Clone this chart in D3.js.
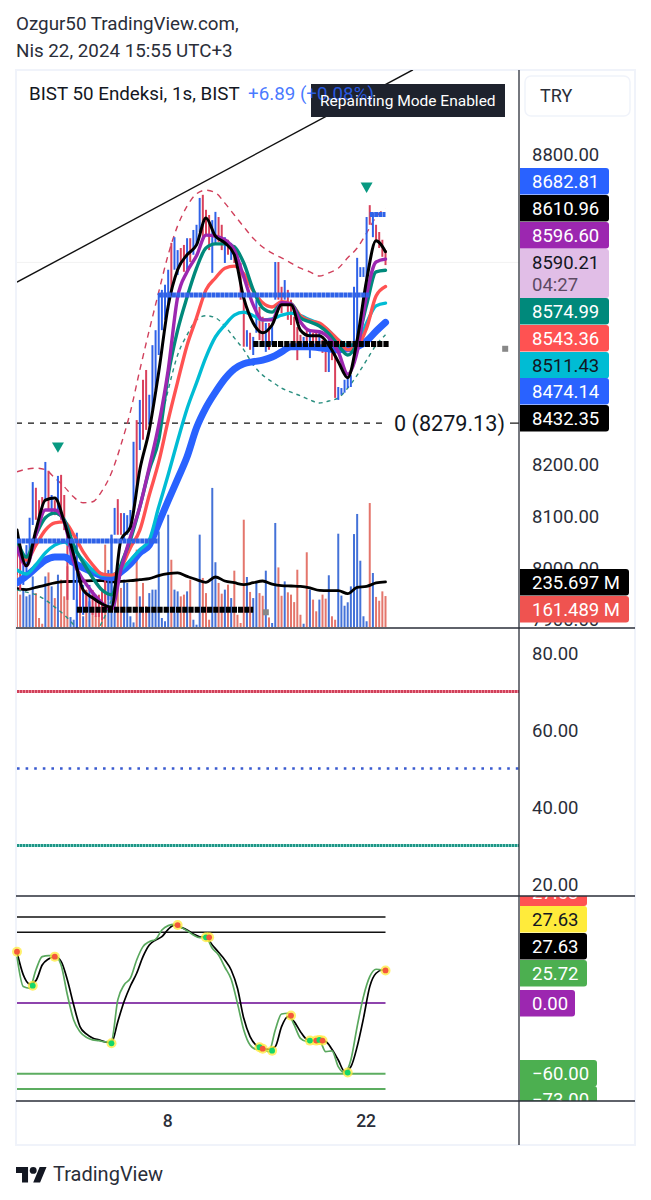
<!DOCTYPE html>
<html>
<head>
<meta charset="utf-8">
<style>
  html, body { margin: 0; background: #fff; }
  svg { display: block; }
  text { font-family: Roboto, sans-serif; }
</style>
<script src="https://cdn.jsdelivr.net/npm/d3@7"></script>
</head>
<body>
<svg id="chart" width="651" height="1200"></svg>
<script>
/* Daily bars: u = up, d = down */
const barDir = "dduuuudddu" + "dududdduuu" + "dududddddu" + "uudduuuudu" + "dduuuuuuud" + "uudduduu"
  + "uddduuddud" + "udddduduud" + "duduuddudd" + "dddududdud" + "dudduuuuuu" + "uuuududddd"
const barHigh = [
  8072,8053,8024,8043,8096,8165,8154,8130,8136,8204,
  8187,8140,8130,8177,8179,8140,8072,8043,8014,8067,
  7985,7966,7956,7966,7956,7947,7947,7956,7985,7995,
  8063,8115,8132,8105,8105,8101,8111,8243,8285,8324,
  8363,8382,8334,8430,8459,8531,8537,8547,8576,8628,
  8639,8614,8618,8624,8637,8637,8653,8663,
  8715,8721,8692,8682,8672,8688,8678,8663,8639,8634,
  8628,8624,8614,8589,8525,8459,8454,8446,8518,8504,
  8485,8473,8473,8469,8591,8591,8543,8556,8537,8518,
  8485,8465,8450,8446,8459,8459,8454,8459,8459,8440,
  8434,8446,8434,8427,8349,8347,8363,8368,8372,8543,
  8599,8581,8581,8678,8701,8686,8663,8649,8634,8614
]
const barLow = [
  7985,7956,7966,7985,8014,8082,8092,8092,8111,8130,
  8111,8101,8101,8101,8092,8072,7937,8005,7937,7883,
  7918,7908,7914,7914,7908,7904,7904,7898,7918,7937,
  7937,8063,8063,8063,8053,8063,8072,8111,8150,8227,
  8247,8266,8276,8305,8343,8411,8459,8479,8498,8527,
  8576,8566,8585,8572,8576,8591,8605,8624,
  8649,8634,8643,8614,8570,8624,8630,8614,8589,8605,
  8595,8589,8585,8518,8427,8427,8421,8411,8454,8440,
  8434,8417,8421,8430,8518,8518,8492,8518,8479,8469,
  8434,8401,8421,8421,8421,8405,8421,8427,8427,8415,
  8378,8378,8401,8328,8324,8334,8338,8347,8349,8415,
  8440,8562,8562,8537,8663,8639,8634,8618,8601,8585
]
/* Volume, millions */
const volume = [
  308,169,204,160,169,264,177,47,17,264,
  285,212,151,273,247,160,317,52,38,143,
  143,56,195,134,108,56,90,38,430,247,
  482,143,204,204,247,230,56,24,404,160,
  230,108,177,195,195,499,47,30,586,351,
  195,186,160,169,186,247,38,12,
  482,256,177,38,726,338,230,174,195,221,
  151,294,64,21,560,261,183,151,230,177,
  163,294,50,21,543,311,163,238,181,169,
  130,299,64,17,390,195,143,82,143,169,
  148,270,56,38,487,164,111,129,212,485,
  590,346,56,30,647,282,157,137,186,161.489
]

/* Moving averages, one value every third bar */
const maBars = d3.range(0, 118, 3)
const maBlack = [8072,8003,8072,8130,8134,8088,8024,7956,7941,7929,7923,8053,8078,8189,8266,8378,8506,8576,8605,8624,8676,8641,8628,8605,8521,8473,8454,8469,8508,8508,8459,8448,8448,8430,8398,8367,8440,8556,8632,8610.96]
const maPurple = [8038,8003,8063,8111,8111,8088,8011,7976,7951,7931,7918,7995,8059,8117,8194,8276,8382,8523,8572,8603,8643,8641,8634,8614,8562,8508,8479,8479,8512,8510,8475,8458,8456,8444,8417,8374,8417,8527,8591,8596.6]
const maTeal = [8053,8020,8063,8096,8105,8092,8043,8009,7980,7956,7947,8005,8053,8117,8189,8247,8372,8459,8523,8579,8618,8626,8626,8620,8589,8537,8502,8494,8510,8510,8483,8475,8467,8452,8430,8411,8436,8508,8572,8574.99]
const maRed = [8040,8014,8043,8072,8086,8088,8063,8030,8005,7987,7985,7999,8038,8072,8140,8204,8285,8359,8430,8483,8537,8560,8579,8583,8568,8535,8512,8504,8514,8510,8487,8477,8473,8458,8440,8421,8428,8463,8525,8543.36]
const maCyan = [7995,7987,8005,8028,8043,8049,8034,8014,7995,7985,7985,7995,8014,8034,8053,8117,8179,8245,8307,8357,8407,8446,8469,8488,8494,8487,8479,8481,8488,8492,8487,8479,8471,8458,8440,8430,8432,8473,8506,8511.43]
const maBlue = [7970,7983,7999,8014,8020,8020,8009,7999,7991,7983,7980,7991,8007,8028,8043,8086,8129,8171,8214,8270,8309,8339,8365,8384,8394,8398,8401,8407,8417,8427,8427,8427,8425,8423,8421,8423,8427,8438,8457,8474.14]
const bandUpper = [8185,8190,8192,8189,8173,8156,8136,8125,8127,8148,8183,8237,8301,8382,8459,8533,8605,8661,8699,8723,8730,8725,8705,8682,8659,8637,8620,8608,8599,8589,8579,8572,8564,8570,8579,8599,8618,8647,8678,8695]
const bandLower = [7956,7952,7947,7937,7923,7908,7889,7869,7869,7894,7937,7985,8053,8121,8189,8266,8343,8411,8450,8479,8487,8483,8467,8444,8421,8392,8372,8359,8347,8339,8332,8324,8318,8322,8328,8347,8372,8401,8430,8450]
const volumeMa = [200,195,207,219,230,237,238,240,242,242,235,238,242,247,252,268,278,282,264,247,233,261,240,231,221,231,240,224,216,214,212,204,191,190,190,174,207,212,230,235.697]

/* Support / resistance segments: bar start, bar end, price */
const blueLevels = [[0, 45, 8051], [45, 112, 8527], [112, 117, 8682.81]]
const blackLevels = [[19, 75, 7918], [75, 118, 8432.35]]
const trendFrom = [0, 8552]
const trendTo = [125.7, 8963]
const fibLevel = 8279.13
const signalBars = [13, 111]
const signalPrices = [8235, 8738]
const squareMarks = [[79, 7913], [155, 8423]]

/* Wave oscillator, one value every second bar */
const oscBars = d3.range(0, 117, 2).concat(117)
const oscSlow = [43,23.8,16.1,19,32.2,37.3,39.3,35.3,19.5,-1.7,-20,-26.2,-29.6,-31.3,-33,-33.6,-15.8,1.2,14.4,25.2,39.3,49.2,53.4,56.2,62.5,66.1,64.2,61.9,58.5,56.2,55.7,49.2,43,36.5,28,12.5,-13,-28.5,-36.1,-38.7,-39.2,-37,-20,-11.6,-15.8,-24.3,-30.8,-31.9,-31.9,-32.7,-39.2,-48.3,-58,-54,-37,-13,13.9,25.2,28,27.63]
const oscFast = [39.3,13.9,12.5,28,39.3,40.1,40.1,32.2,6.8,-14.4,-24.3,-29.1,-31.3,-31.9,-33,-31.9,2.6,15.3,21,36.5,47.8,52,54,61.9,65.6,66.7,64.2,61.3,57.7,55.4,55.7,46.4,40.7,30.3,20.1,-0.3,-22.9,-35.6,-39.2,-39.2,-41.2,-22.9,-9.3,-8.7,-18.6,-29.9,-32.5,-31.9,-31.9,-41.2,-40.6,-53.9,-59,-48.3,-20,5.4,22.3,28.6,28,25.72]
const crossBars = [0,5,12,30,51,60,61,77,78,81,87,93,95,96,97,105,117]
const crossValues = [43.5,14.7,39.3,-34.2,66.1,55.7,55.7,-37.5,-38.7,-40.4,-10.7,-31.9,-31.9,-31.3,-31.9,-59,27.63]
const crossKinds = ["r","g","r","g","r","g","r","g","r","g","r","g","r","g","r","g","r"]
const oscLevels = [73, 60, 0, -60, -73]
const oscLevelColors = ["#111", "#111", "#8e44ad", "#5cad60", "#5cad60"]

/* Axis ticks and labels, 8300-8700 sit behind the value tags */
const priceTicks = [8800, 8200, 8100, 8000, 7900]
const rsiTicks = [80, 60, 40, 20]
const timeTickBars = [48, 111]
const timeTickLabels = ["8", "22"]
const priceLabels = ["8682.81", "8610.96", "8596.60", "8590.21", "8574.99", "8543.36", "8511.43", "8474.14", "8432.35"]
const priceLabelColors = ["#2962ff", "#000", "#9c27b0", "#e1bee7", "#00897b", "#ff5252", "#00bcd4", "#2962ff", "#000"]
const priceLabelInk = ["#fff", "#fff", "#fff", "#131722", "#fff", "#fff", "#131722", "#fff", "#fff"]
const volumeLabels = ["235.697 M", "161.489 M"]
const volumeLabelColors = ["#000", "#ef5350"]
const oscLabels = ["27.63", "27.63", "27.63", "25.72", "0.00", "−60.00", "−73.00"]
const oscLabelColors = ["#ff5252", "#ffeb3b", "#000", "#4caf50", "#9c27b0", "#4caf50", "#4caf50"]
const oscLabelInk = ["#fff", "#131722", "#fff", "#fff", "#fff", "#fff", "#fff"]

/* Chart dimensions etc. */
const paneLeft = 16
const paneRight = 519
const frameRight = 635
const frameTop = 70
const mainBottom = 628
const rsiBottom = 896
const oscBottom = 1101
const frameBottom = 1145
const fontSize = 18.5

const svg = d3.select("#chart")

/* scales */
const x = d3.scaleLinear([0, 117], [17, 385.5])
const y = d3.scaleLinear([7900, 8800], [619, 154])
const yVol = d3.scaleLinear([0, 1000], [627, 435.4])
const yRsi = d3.scaleLinear([20, 80], [884, 653])
const yOsc = d3.scaleLinear([-73, 73], [1089.1, 916.9])

const line = (xs, scale, curve) => d3.line()
  .x((d, i) => x(xs[i]))
  .y(d => scale(d))
  .curve(curve || d3.curveMonotoneX)

const addClip = (id, top, bottom, left, right) => svg.append("clipPath").attr("id", id)
  .append("rect").attr("x", left).attr("y", top).attr("width", right - left).attr("height", bottom - top)

addClip("cut-main", frameTop, mainBottom, paneLeft + 1, paneRight)
addClip("cut-main-axis", frameTop, mainBottom, paneRight, frameRight)
addClip("cut-rsi-axis", mainBottom, rsiBottom, paneRight, frameRight)
addClip("cut-osc-axis", rsiBottom, oscBottom, paneRight, frameRight)

/* frame */
svg.append("rect")
  .attr("x", paneLeft).attr("y", frameTop)
  .attr("width", frameRight - paneLeft).attr("height", frameBottom - frameTop)
  .attr("fill", "#fff").attr("stroke", "#f0f3fa").attr("stroke-width", 2)

/* header */
svg.append("text").attr("x", 16).attr("y", 30).attr("font-size", 18.8).attr("fill", "#2a2e39").text("Ozgur50 TradingView.com,")
svg.append("text").attr("x", 16).attr("y", 57).attr("font-size", 18.8).attr("fill", "#2a2e39").text("Nis 22, 2024 15:55 UTC+3")

const main = svg.append("g").attr("clip-path", "url(#cut-main)")

/* last price guide */
main.append("line")
  .attr("x1", paneLeft).attr("x2", paneRight)
  .attr("y1", y(8590.21)).attr("y2", y(8590.21))
  .attr("stroke", "#f2f2f2").attr("stroke-width", 1)

/* trend line */
main.append("line")
  .attr("x1", x(trendFrom[0])).attr("y1", y(trendFrom[1]))
  .attr("x2", x(trendTo[0])).attr("y2", y(trendTo[1]))
  .attr("stroke", "#111").attr("stroke-width", 1.4)

/* fib level */
main.append("line")
  .attr("x1", paneLeft).attr("x2", 385)
  .attr("y1", y(fibLevel)).attr("y2", y(fibLevel))
  .attr("stroke", "#111").attr("stroke-width", 1.2).attr("stroke-dasharray", "6,6")
main.append("line")
  .attr("x1", 510).attr("x2", paneRight)
  .attr("y1", y(fibLevel)).attr("y2", y(fibLevel))
  .attr("stroke", "#111").attr("stroke-width", 1.2)

/* volume bars */
main.append("g").selectAll("line")
  .data(volume)
  .join("line")
  .attr("x1", (d, i) => x(i)).attr("x2", (d, i) => x(i))
  .attr("y1", yVol(0)).attr("y2", d => yVol(d))
  .attr("stroke", (d, i) => barDir[i] === "u" ? "#4472d8" : "#e4766c")
  .attr("stroke-width", 2)

/* volume average */
main.append("path")
  .attr("d", line(maBars, yVol)(volumeMa))
  .attr("fill", "none").attr("stroke", "#000").attr("stroke-width", 2.8).attr("stroke-linecap", "round")

/* envelope bands */
main.append("path")
  .attr("d", line(maBars, y)(bandUpper))
  .attr("fill", "none").attr("stroke", "#d1405c").attr("stroke-width", 1.4).attr("stroke-dasharray", "6,5")
main.append("path")
  .attr("d", line(maBars, y)(bandLower))
  .attr("fill", "none").attr("stroke", "#2b8f80").attr("stroke-width", 1.4).attr("stroke-dasharray", "4,4")

/* price bars */
main.append("g").selectAll("line")
  .data(barHigh)
  .join("line")
  .attr("x1", (d, i) => x(i)).attr("x2", (d, i) => x(i))
  .attr("y1", d => y(d)).attr("y2", (d, i) => y(barLow[i]))
  .attr("stroke", (d, i) => barDir[i] === "u" ? "#2f62e8" : "#d9415c")
  .attr("stroke-width", 2)

/* moving averages, slowest first */
main.append("g").attr("fill", "none").attr("stroke-linecap", "round").attr("stroke-linejoin", "round")
  .selectAll("path")
  .data([
    [maBlue, "#2962ff", 7],
    [maCyan, "#00bcd4", 3.4],
    [maRed, "#ff5252", 3.4],
    [maTeal, "#00897b", 3.4],
    [maPurple, "#9c27b0", 3.4],
    [maBlack, "#000", 3]
  ])
  .join("path")
  .attr("d", d => line(maBars, y)(d[0]))
  .attr("stroke", d => d[1])
  .attr("stroke-width", d => d[2])

/* support / resistance */
main.append("g").selectAll("line")
  .data(blueLevels)
  .join("line")
  .attr("x1", d => x(d[0])).attr("x2", d => x(d[1]))
  .attr("y1", d => y(d[2])).attr("y2", d => y(d[2]))
  .attr("stroke", "#2f62e8").attr("stroke-width", 5).attr("stroke-dasharray", "4,0.4")
main.append("g").selectAll("line")
  .data(blackLevels)
  .join("line")
  .attr("x1", d => x(d[0])).attr("x2", d => x(d[1]))
  .attr("y1", d => y(d[2])).attr("y2", d => y(d[2]))
  .attr("stroke", "#000").attr("stroke-width", 6).attr("stroke-dasharray", "5.2,1")

/* signals */
main.append("g").selectAll("path")
  .data(signalBars)
  .join("path")
  .attr("d", d3.symbol(d3.symbolTriangle, 62))
  .attr("transform", (d, i) => `translate(${x(d)},${y(signalPrices[i])}) rotate(180)`)
  .attr("fill", "#089981")
main.append("g").selectAll("rect")
  .data(squareMarks)
  .join("rect")
  .attr("x", d => x(d[0]) - 3).attr("y", d => y(d[1]) - 3)
  .attr("width", 6).attr("height", 6)
  .attr("fill", "#888")

/* fib label */
svg.append("text")
  .attr("x", 394).attr("y", y(fibLevel) + 7.5)
  .attr("font-size", 21.6).attr("fill", "#131722")
  .text(`0 (${fibLevel})`)

/* legend */
svg.append("text").attr("x", 29).attr("y", 100).attr("font-size", 18.8).attr("fill", "#131722").text("BIST 50 Endeksi, 1s, BIST")
svg.append("rect").attr("x", 311).attr("y", 84).attr("width", 194).attr("height", 33).attr("fill", "#1e222d")
svg.append("text").attr("x", 248).attr("y", 100).attr("font-size", 18.8).attr("fill", "#2962ff").attr("fill-opacity", 0.85).text("+6.89 (+0.08%)")
svg.append("text").attr("x", 320).attr("y", 106).attr("font-size", 15.5).attr("fill", "#fff").text("Repainting Mode Enabled")

/* TRY box */
svg.append("rect").attr("x", 525).attr("y", 76).attr("width", 105).attr("height", 40).attr("rx", 6)
  .attr("fill", "#fff").attr("stroke", "#f0f3fa").attr("stroke-width", 1.5)
svg.append("text").attr("x", 540).attr("y", 102).attr("font-size", 18).attr("fill", "#2a2e39").text("TRY")

/* price axis */
const axisText = g => g.call(a => a.select(".domain").remove())
  .call(a => a.selectAll(".tick text")
    .attr("dy", "0.37em")
    .attr("font-family", "Roboto, sans-serif")
    .attr("font-size", fontSize)
    .attr("fill", "#2a2e39"))

svg.append("g")
  .attr("clip-path", "url(#cut-main-axis)")
  .append("g")
  .attr("transform", `translate(${paneRight},0)`)
  .call(d3.axisRight(y).tickValues(priceTicks).tickSize(0).tickPadding(13).tickFormat(d3.format(".2f")))
  .call(axisText)

/* value tags */
const tagPath = (x0, x1, y0, y1) => {
  const r = 3
  return `M${x0},${y0}H${x1 - r}Q${x1},${y0} ${x1},${y0 + r}V${y1 - r}Q${x1},${y1} ${x1 - r},${y1}H${x0}Z`
}

const tag = (parent, top, height, right, color, ink, label) => {
  parent.append("path").attr("d", tagPath(paneRight + 1, right, top, top + height)).attr("fill", color)
  parent.append("text")
    .attr("x", 532).attr("y", top + 19.5)
    .attr("font-size", fontSize).attr("fill", ink)
    .text(label)
}

const mainTags = svg.append("g").attr("clip-path", "url(#cut-main-axis)")
const tagTops = [168, 195, 222, 249, 298, 325, 352, 378, 405]
priceLabels.forEach((label, i) => {
  tag(mainTags, tagTops[i], i === 3 ? 49 : 26.5, 609, priceLabelColors[i], priceLabelInk[i], label)
})
mainTags.append("text").attr("x", 532).attr("y", 290.5).attr("font-size", fontSize).attr("fill", "#5d4a63").text("04:27")
const volumeTagTops = [569, 596]
volumeLabels.forEach((label, i) => {
  tag(mainTags, volumeTagTops[i], 26.5, 629, volumeLabelColors[i], "#fff", label)
})

/* RSI pane */
const rsiLevelPane = svg.append("g")
rsiLevelPane.append("line")
  .attr("x1", paneLeft + 1).attr("x2", paneRight).attr("y1", yRsi(70)).attr("y2", yRsi(70))
  .attr("stroke", "#ee8a9c").attr("stroke-width", 3)
rsiLevelPane.append("line")
  .attr("x1", paneLeft + 1).attr("x2", paneRight).attr("y1", yRsi(70)).attr("y2", yRsi(70))
  .attr("stroke", "#d0405a").attr("stroke-width", 3).attr("stroke-dasharray", "2,1")
rsiLevelPane.append("line")
  .attr("x1", paneLeft + 1).attr("x2", paneRight).attr("y1", yRsi(50)).attr("y2", yRsi(50))
  .attr("stroke", "#3a5bd0").attr("stroke-width", 2.6).attr("stroke-dasharray", "2.6,6")
rsiLevelPane.append("line")
  .attr("x1", paneLeft + 1).attr("x2", paneRight).attr("y1", yRsi(30)).attr("y2", yRsi(30))
  .attr("stroke", "#7fd0c4").attr("stroke-width", 3)
rsiLevelPane.append("line")
  .attr("x1", paneLeft + 1).attr("x2", paneRight).attr("y1", yRsi(30)).attr("y2", yRsi(30))
  .attr("stroke", "#1f9586").attr("stroke-width", 3).attr("stroke-dasharray", "2,1")

svg.append("g")
  .attr("clip-path", "url(#cut-rsi-axis)")
  .append("g")
  .attr("transform", `translate(${paneRight},0)`)
  .call(d3.axisRight(yRsi).tickValues(rsiTicks).tickSize(0).tickPadding(13).tickFormat(d3.format(".2f")))
  .call(axisText)

/* oscillator pane */
const osc = svg.append("g")
osc.selectAll("line")
  .data(oscLevels)
  .join("line")
  .attr("x1", paneLeft + 1).attr("x2", x(117))
  .attr("y1", d => yOsc(d)).attr("y2", d => yOsc(d))
  .attr("stroke", (d, i) => oscLevelColors[i])
  .attr("stroke-width", (d, i) => i < 2 ? 1.5 : 2)

osc.append("path")
  .attr("d", line(oscBars, yOsc)(oscSlow))
  .attr("fill", "none").attr("stroke", "#000").attr("stroke-width", 1.7)
osc.append("path")
  .attr("d", line(oscBars, yOsc)(oscFast))
  .attr("fill", "none").attr("stroke", "#5aa85e").attr("stroke-width", 1.7)

osc.append("g").selectAll("circle")
  .data(crossBars)
  .join("circle")
  .attr("cx", d => x(d)).attr("cy", (d, i) => yOsc(crossValues[i]))
  .attr("r", 5).attr("fill", "#ffeb3b").attr("fill-opacity", 0.75)
osc.append("g").selectAll("circle")
  .data(crossBars)
  .join("circle")
  .attr("cx", d => x(d)).attr("cy", (d, i) => yOsc(crossValues[i]))
  .attr("r", 2.9)
  .attr("fill", (d, i) => crossKinds[i] === "r" ? "#f4563c" : "#14d66a")

const oscTags = svg.append("g").attr("clip-path", "url(#cut-osc-axis)")
const oscTagTops = [879.5, 906, 933, 960, 990, 1060, 1086]
const oscTagRights = [587, 587, 587, 587, 575, 597, 597]
oscLabels.forEach((label, i) => {
  tag(oscTags, oscTagTops[i], 26.5, oscTagRights[i], oscLabelColors[i], oscLabelInk[i], label)
})

/* pane borders */
svg.append("g").attr("stroke", "#2a2e39").attr("stroke-width", 1.3)
  .selectAll("line")
  .data([mainBottom, rsiBottom, oscBottom])
  .join("line")
  .attr("x1", paneLeft).attr("x2", frameRight)
  .attr("y1", d => d).attr("y2", d => d)
svg.append("line")
  .attr("x1", paneRight).attr("x2", paneRight)
  .attr("y1", frameTop).attr("y2", frameBottom)
  .attr("stroke", "#2a2e39").attr("stroke-width", 1.3)

/* time axis */
svg.append("g")
  .attr("transform", `translate(-1,${oscBottom + 14})`)
  .call(d3.axisBottom(x).tickValues(timeTickBars).tickSize(0).tickPadding(0).tickFormat((d, i) => timeTickLabels[i]))
  .call(g => g.select(".domain").remove())
  .call(g => g.selectAll(".tick text")
    .attr("font-family", "Roboto, sans-serif")
    .attr("font-size", 17.5)
    .attr("font-weight", 500)
    .attr("fill", "#2a2e39"))

/* footer */
const logo = svg.append("g").attr("transform", "translate(16,1163.5) scale(0.86)").attr("fill", "#131722")
logo.append("path").attr("d", "M14 22H7V11H0V4h14v18zM28 22h-8l7.5-18h8L28 22z")
logo.append("circle").attr("cx", 20).attr("cy", 8).attr("r", 4)
svg.append("text").attr("x", 53).attr("y", 1180.5).attr("font-size", 20).attr("fill", "#2a2e39").text("TradingView")
</script>
</body>
</html>
